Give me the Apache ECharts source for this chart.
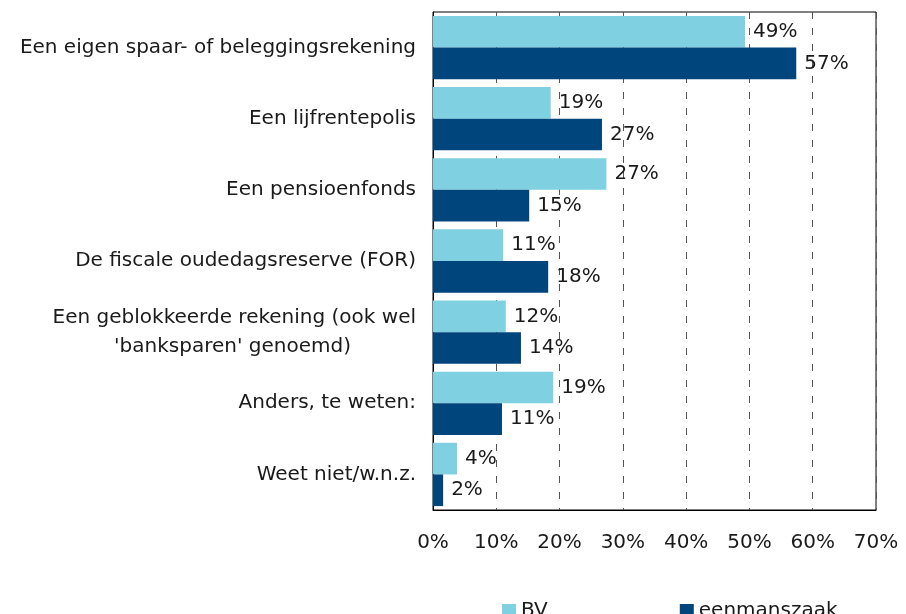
<!DOCTYPE html>
<html>
<head>
<meta charset="utf-8">
<script src="https://cdn.jsdelivr.net/npm/echarts@6/dist/echarts.min.js"></script>
<style>
html,body{margin:0;padding:0;background:#fff;}
#chart{width:906px;height:614px;}
</style>
</head>
<body>
<div id="chart"></div>
<script>
var categories = [
  "Een eigen spaar- of beleggingsrekening",
  "Een lijfrentepolis",
  "Een pensioenfonds",
  "De fiscale oudedagsreserve (FOR)",
  "Een geblokkeerde rekening (ook wel\n'banksparen' genoemd)",
  "Anders, te weten:",
  "Weet niet/w.n.z."
];
var seriesNames = ["BV", "eenmanszaak"];
var bvValues = [49.3, 18.6, 27.4, 11.1, 11.5, 19.0, 3.8];
var eenmanszaakValues = [57.4, 26.7, 15.2, 18.2, 13.9, 10.9, 1.6];
var xTicks = [0, 10, 20, 30, 40, 50, 60, 70];

var FONT = 'DejaVu Sans';
var FS = 20;
var chart = echarts.init(document.getElementById('chart'), null, {renderer: 'canvas'});
var labelCfg = {
  show: true, position: 'right', distance: 8,
  fontFamily: FONT, fontSize: FS, color: '#1a1a1a',
  formatter: function (p) { return Math.round(p.value) + '%'; }
};
chart.setOption({
  animation: false,
  textStyle: {fontFamily: FONT},
  grid: {left: 433, right: 30, top: 12, bottom: 104, show: true, borderColor: '#000', borderWidth: 1, containLabel: false},
  legend: {
    data: seriesNames, left: 497, top: 596, itemWidth: 14, itemHeight: 14, itemGap: 132,
    icon: 'rect', textStyle: {fontFamily: FONT, fontSize: FS, color: '#1a1a1a'}
  },
  xAxis: {
    type: 'value', min: xTicks[0], max: xTicks[xTicks.length - 1], interval: 10,
    axisLine: {show: true, lineStyle: {color: '#000', width: 1}},
    axisTick: {show: false},
    axisLabel: {formatter: '{value}%', fontFamily: FONT, fontSize: FS, color: '#1a1a1a', margin: 23},
    splitLine: {show: true, lineStyle: {color: '#555', type: [7, 9], width: 1}}
  },
  yAxis: {
    type: 'category', data: categories, inverse: true,
    axisLine: {show: true, lineStyle: {color: '#000', width: 1}},
    axisTick: {show: false},
    axisLabel: {
      fontFamily: FONT, fontSize: FS, color: '#1a1a1a', margin: 17, lineHeight: 29,
      formatter: function (v) {
        var parts = v.split('\n');
        if (parts.length > 1) return parts[0] + '\n{b|' + parts[1] + '}';
        return v;
      },
      rich: {b: {fontFamily: FONT, fontSize: FS, color: '#1a1a1a', lineHeight: 29, padding: [0, 65, 0, 0]}}
    }
  },
  series: [
    {name: seriesNames[0], type: 'bar', data: bvValues, barGap: '0%', barCategoryGap: '11%',
     itemStyle: {color: '#7fd1e1'}, label: labelCfg},
    {name: seriesNames[1], type: 'bar', data: eenmanszaakValues, barGap: '0%', barCategoryGap: '11%',
     itemStyle: {color: '#00457c'}, label: labelCfg}
  ]
});
</script>
</body>
</html>
